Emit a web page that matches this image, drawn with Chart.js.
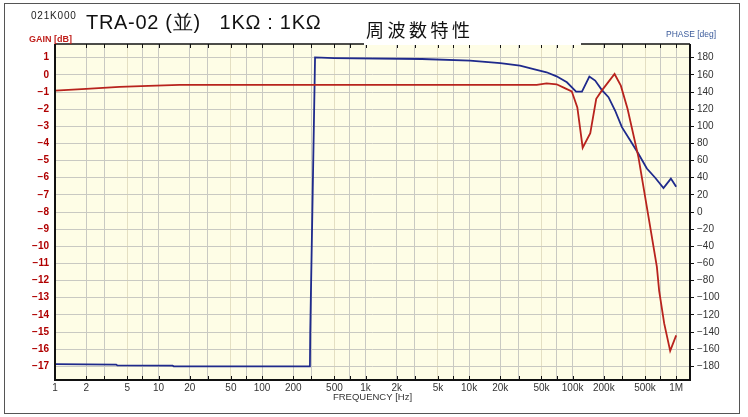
<!DOCTYPE html>
<html>
<head>
<meta charset="utf-8">
<script src="https://cdn.jsdelivr.net/npm/chart.js@4/dist/chart.umd.min.js"></script>
<style>
html, body { margin: 0; padding: 0; background: #fff; }
#wrap { position: relative; width: 748px; height: 417px; font-family: "Liberation Sans", Arial, sans-serif; }
#frame { position: absolute; left: 4px; top: 3px; width: 736px; height: 411px; border: 1px solid #555; box-sizing: border-box; }
#c { position: absolute; left: 0; top: 0; }
.t { position: absolute; white-space: pre; line-height: 1; }
#code { left: 31px; top: 11px; font-size: 10px; letter-spacing: 0.8px; color: #222; }
#model { left: 86px; top: 12px; font-size: 20px; letter-spacing: 0.7px; color: #111; }
#titlebox { position: absolute; left: 364px; top: 18px; width: 217px; height: 27px; background: #fff; }
#jp { left: 366px; top: 20px; font-size: 18px; letter-spacing: 3.5px; color: #111; font-family: "Noto Sans CJK JP", sans-serif; }
#gain { left: 29px; top: 35px; font-size: 9px; font-weight: bold; color: #c0201c; }
#phase { left: 666px; top: 30px; font-size: 8.5px; color: #3b5b9b; }
</style>
</head>
<body>
<div id="wrap">
  <div id="frame"></div>
  <canvas id="c" width="748" height="417"></canvas>
  <div class="t" id="code">021K000</div>
  <div class="t" id="model">TRA-02 (並)   1KΩ : 1KΩ</div>
  <div id="titlebox"></div>
  <div class="t" id="jp">周波数特性</div>
  <div class="t" id="gain">GAIN [dB]</div>
  <div class="t" id="phase">PHASE [deg]</div>
</div>
<script>
// ゲイン (赤, 左軸)
const gainFreq = [1, 2, 4.2, 8, 16, 1000, 45000, 56000, 70000, 81000, 98000, 111000, 125000, 148000, 169000, 191000, 254000, 292000, 339000, 432000, 541000, 651000, 685000, 766000, 875000, 1000000];
const gainDb   = [-0.92, -0.82, -0.7, -0.64, -0.59, -0.58, -0.58, -0.5, -0.55, -0.73, -0.96, -1.9, -4.25, -3.4, -1.4, -0.92, 0.05, -0.63, -1.98, -4.8, -8.3, -11.2, -12.6, -14.5, -16.1, -15.2];

// 位相 (青, 右軸)
const phaseFreq = [1, 3.9, 4, 13.7, 14, 290, 292, 325, 496, 3500, 10200, 20000, 31000, 42000, 56000, 70000, 88000, 108000, 123000, 145000, 165000, 191000, 222000, 257000, 299000, 359000, 432000, 521000, 627000, 754000, 889000, 1000000];
const phaseDeg  = [-177.5, -178, -179, -179.3, -180, -180, -141, 180.3, 179.6, 178.5, 176.5, 173.8, 170.7, 166.8, 163, 158.3, 151.3, 140.5, 140.5, 158, 153.3, 142.5, 134, 118.4, 99, 83.6, 68, 50.7, 40, 28, 39, 29.4];

// 目盛り
const gridFreqs = [1, 2, 3, 5, 7, 10, 20, 30, 50, 70, 100, 200, 300, 500, 700, 1e3, 2e3, 3e3, 5e3, 7e3, 1e4, 2e4, 3e4, 5e4, 7e4, 1e5, 2e5, 3e5, 5e5, 7e5, 1e6];
const freqLabelValues = [1, 2, 5, 10, 20, 50, 100, 200, 500, 1e3, 2e3, 5e3, 1e4, 2e4, 5e4, 1e5, 2e5, 5e5, 1e6];
const freqLabelTexts = ['1', '2', '5', '10', '20', '50', '100', '200', '500', '1k', '2k', '5k', '10k', '20k', '50k', '100k', '200k', '500k', '1M'];
const gainTicks = [-17, -16, -15, -14, -13, -12, -11, -10, -9, -8, -7, -6, -5, -4, -3, -2, -1, 0, 1];
const phaseTicks = [-180, -160, -140, -120, -100, -80, -60, -40, -20, 0, 20, 40, 60, 80, 100, 120, 140, 160, 180];

// 背景と枠線
const plotFrame = {
    id: 'plotFrame',
    beforeDraw(chart) {
        const a = chart.chartArea;
        const ctx = chart.ctx;
        ctx.save();
        ctx.fillStyle = '#fefde6';
        ctx.fillRect(a.left, a.top, a.right - a.left, a.bottom - a.top);
        ctx.restore();
    },
    afterDraw(chart) {
        const a = chart.chartArea;
        const ctx = chart.ctx;
        const x = chart.scales.x;
        ctx.save();
        ctx.strokeStyle = '#111';
        // x の内向き目盛り
        ctx.lineWidth = 1;
        gridFreqs.forEach(f => {
            const px = Math.round(x.getPixelForValue(f)) + 0.5;
            ctx.beginPath();
            ctx.moveTo(px, a.top); ctx.lineTo(px, a.top + 4);
            ctx.moveTo(px, a.bottom); ctx.lineTo(px, a.bottom - 4);
            ctx.stroke();
        });
        ctx.lineWidth = 1.5;
        ctx.beginPath();
        ctx.moveTo(a.left, a.top); ctx.lineTo(a.right, a.top);
        ctx.stroke();
        ctx.lineWidth = 2;
        ctx.beginPath();
        ctx.moveTo(a.left, a.top); ctx.lineTo(a.left, a.bottom); ctx.lineTo(a.right, a.bottom); ctx.lineTo(a.right, a.top);
        ctx.stroke();
        ctx.restore();
    }
};

new Chart(document.getElementById('c').getContext('2d'), {
    type: 'line',
    data: {
        datasets: [{
            label: 'GAIN',
            data: gainFreq.map((f, i) => ({ x: f, y: gainDb[i] })),
            borderColor: '#b8231d',
            borderWidth: 1.8,
            pointRadius: 0,
            tension: 0,
            yAxisID: 'yGain'
        }, {
            label: 'PHASE',
            data: phaseFreq.map((f, i) => ({ x: f, y: phaseDeg[i] })),
            borderColor: '#1f2a8c',
            borderWidth: 1.8,
            pointRadius: 0,
            tension: 0,
            yAxisID: 'yPhase'
        }]
    },
    options: {
        responsive: false,
        animation: false,
        layout: { padding: { top: 44, left: 0, right: 0, bottom: 0 } },
        plugins: { legend: { display: false }, tooltip: { enabled: false } },
        scales: {
            x: {
                type: 'logarithmic',
                min: 1,
                max: 1.36e6,
                afterBuildTicks: s => { s.ticks = gridFreqs.map(v => ({ value: v })); },
                afterFit: s => { s.height = 37; },
                border: { display: false },
                grid: {
                    drawTicks: false,
                    color: ctx => (ctx.tick && String(ctx.tick.value)[0] === '5') ? '#e4dfc2' : '#c9c9c2',
                    lineWidth: 1
                },
                ticks: {
                    autoSkip: false,
                    maxRotation: 0,
                    padding: 2,
                    color: '#333',
                    font: { family: 'Liberation Sans', size: 10 },
                    callback: v => {
                        const i = freqLabelValues.indexOf(v);
                        return i < 0 ? '' : freqLabelTexts[i];
                    }
                },
                title: {
                    display: true,
                    text: 'FREQUENCY [Hz]',
                    color: '#333',
                    font: { family: 'Liberation Sans', size: 9.5 },
                    padding: { top: 0, bottom: 14 }
                }
            },
            yGain: {
                position: 'left',
                min: -17.8,
                max: 1.8,
                afterBuildTicks: s => { s.ticks = gainTicks.map(v => ({ value: v })); },
                afterFit: s => { s.width = 55; },
                border: { display: false },
                grid: { drawTicks: false, color: '#c9c9c2' },
                ticks: {
                    padding: 6,
                    color: '#b00000',
                    font: { family: 'Liberation Sans', size: 10, weight: 'bold' },
                    callback: v => String(v).replace('-', '\u2212')
                }
            },
            yPhase: {
                position: 'right',
                min: -196,
                max: 196,
                afterBuildTicks: s => { s.ticks = phaseTicks.map(v => ({ value: v })); },
                afterFit: s => { s.width = 58; },
                border: { display: false },
                grid: { drawOnChartArea: false, drawTicks: true, tickLength: 4, tickColor: '#111' },
                ticks: {
                    padding: 3,
                    color: '#333',
                    font: { family: 'Liberation Sans', size: 10 },
                    callback: v => String(v).replace('-', '\u2212')
                }
            }
        }
    },
    plugins: [plotFrame]
});
</script>
</body>
</html>
